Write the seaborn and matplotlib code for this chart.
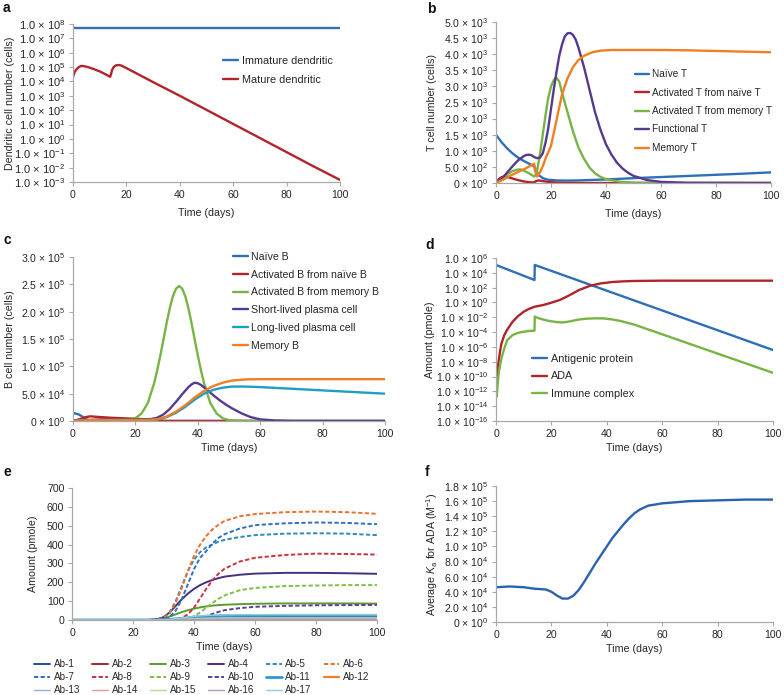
import numpy as np
import matplotlib
matplotlib.use("Agg")
import matplotlib.pyplot as plt
import matplotlib.ticker as mticker
import seaborn as sns

# ---------------- data ----------------
# a: dendritic cells
t_imm = [0, 100]
immature_dc = [5e7, 5e7]
t_mat = [0, 0.5, 1, 2, 3, 4, 6, 8, 10, 12, 13.9, 14.2, 14.6, 15.2, 16, 17, 18, 20,
         30, 40, 50, 60, 70, 80, 90, 100]
mature_dc = [2e4, 4e4, 6e4, 9.5e4, 1.2e5, 1.18e5, 9.5e4, 7e4, 5e4, 3.3e4, 2.1e4, 3e4,
             6e4, 1e5, 1.3e5, 1.4e5, 1.3e5, 8.5e4, 9e3, 1e3, 1.05e2, 11, 1.15, 0.12,
             1.25e-2, 1.4e-3]

# b: T cells
t_naive_t = [0, 2, 4, 6, 8, 10, 12, 13.9, 14.5, 15.5, 17, 19, 22, 26, 30, 40, 50, 60,
             70, 80, 90, 100]
naive_t = [1500, 1270, 1080, 920, 790, 690, 600, 520, 400, 250, 150, 100, 80, 75, 80,
           110, 150, 185, 220, 255, 290, 330]
t_act_naive_t = [0, 1, 2, 3, 4, 6, 8, 10, 12, 13.9, 14.5, 15.5, 17, 19, 22, 25, 30, 100]
act_naive_t = [0, 120, 180, 200, 190, 140, 90, 50, 25, 15, 60, 80, 60, 35, 15, 5, 0, 0]
t_act_mem_t = [0, 2, 4, 6, 8, 9, 10, 12, 13.9, 14.5, 15, 16, 17, 18, 19, 20, 21, 22, 23,
               24, 26, 28, 30, 32, 34, 36, 38, 40, 45, 50, 60, 100]
act_mem_t = [0, 120, 260, 370, 420, 420, 390, 300, 200, 260, 400, 900, 1500, 2100, 2650,
             3000, 3200, 3270, 3150, 2800, 2200, 1600, 1100, 750, 480, 300, 190, 120, 40,
             12, 0, 0]
t_func_t = [0, 2, 4, 6, 8, 10, 11, 12, 13, 14, 15, 16, 17, 18, 19, 20, 21, 22, 23, 24,
            25, 26, 27, 28, 29, 30, 32, 34, 36, 38, 40, 42, 44, 46, 48, 50, 55, 60, 70, 100]
func_t = [0, 120, 320, 520, 700, 830, 870, 880, 860, 800, 770, 790, 920, 1250, 1700,
          2300, 2900, 3450, 3950, 4300, 4550, 4650, 4660, 4600, 4450, 4200, 3600, 2900,
          2200, 1650, 1200, 880, 630, 450, 320, 220, 90, 35, 5, 0]
t_mem_t = [0, 2, 4, 6, 8, 10, 12, 13.9, 14.1, 15, 16, 17, 18, 20, 22, 24, 26, 28, 30,
           32, 35, 38, 42, 50, 60, 70, 80, 90, 100]
mem_t = [0, 80, 170, 260, 340, 420, 510, 600, 400, 200, 330, 520, 760, 1150, 1950, 2750,
         3250, 3600, 3820, 3950, 4060, 4110, 4130, 4130, 4130, 4120, 4100, 4080, 4060]

# c: B cells
t_naive_b = [0, 1, 2, 3, 4, 5, 6, 100]
naive_b = [1.45e4, 1.35e4, 1.15e4, 8e3, 4e3, 1e3, 0, 0]
t_act_naive_b = [0, 2, 4, 5.5, 8, 12, 16, 20, 24, 26, 28, 30, 100]
act_naive_b = [0, 3e3, 7e3, 8.5e3, 7.5e3, 6e3, 5e3, 4e3, 3e3, 2e3, 700, 100, 0]
t_act_mem_b = [0, 5, 10, 15, 18, 20, 22, 24, 26, 27, 28, 29, 30, 31, 32, 33, 34, 35, 36,
               37, 38, 39, 40, 41, 42, 44, 46, 48, 50, 55, 60, 100]
act_mem_b = [0, 1e3, 2e3, 2.5e3, 3e3, 5e3, 1.4e4, 3.3e4, 6.9e4, 9.3e4, 1.2e5, 1.49e5,
             1.79e5, 2.06e5, 2.28e5, 2.42e5, 2.47e5, 2.42e5, 2.28e5, 2.06e5, 1.79e5,
             1.49e5, 1.2e5, 9.3e4, 6.9e4, 3.3e4, 1.4e4, 5e3, 1.5e3, 100, 0, 0]
t_short_pc = [0, 5, 10, 20, 25, 27, 29, 31, 33, 35, 37, 38, 39, 40, 41, 43, 45, 47, 49,
              51, 54, 57, 60, 65, 70, 100]
short_pc = [0, 2e3, 3e3, 3e3, 3.5e3, 6e3, 1.2e4, 2.2e4, 3.5e4, 4.9e4, 6.2e4, 6.7e4, 7e4,
            6.9e4, 6.6e4, 5.7e4, 4.7e4, 3.8e4, 3e4, 2.3e4, 1.4e4, 7e3, 3e3, 800, 0, 0]
t_long_pc = [0, 5, 25, 27, 30, 33, 36, 39, 42, 45, 48, 51, 55, 60, 70, 80, 90, 100]
long_pc = [0, 1.5e3, 2e3, 3e3, 7e3, 1.5e4, 2.6e4, 3.9e4, 5e4, 5.7e4, 6.1e4, 6.3e4, 6.3e4,
           6.2e4, 5.9e4, 5.6e4, 5.3e4, 5e4]
t_mem_b = [0, 5, 25, 27, 30, 33, 36, 39, 42, 45, 48, 51, 55, 60, 100]
mem_b = [0, 1.5e3, 2e3, 3e3, 8e3, 1.7e4, 2.9e4, 4.3e4, 5.5e4, 6.4e4, 7e4, 7.4e4, 7.6e4,
         7.65e4, 7.65e4]

# d: amounts (log10 of pmole)
t_antigen = [0, 13.9, 14.0, 100]
antigen_log = [5.06, 3.03, 5.06, -6.42]
t_ada = [0, 0.3, 0.6, 1, 1.5, 2, 3, 4, 6, 8, 10, 12, 14, 17, 20, 23, 26, 30, 34, 38, 42,
         46, 50, 60, 70, 80, 100]
ada_log = [-11.4, -10.2, -8.8, -7.8, -6.5, -5.5, -4.4, -3.7, -2.6, -1.83, -1.25, -0.85,
           -0.57, -0.35, -0.03, 0.33, 0.87, 1.68, 2.26, 2.58, 2.76, 2.85, 2.9, 2.94, 2.94,
           2.94, 2.94]
t_ic = [0.3, 0.6, 1, 1.5, 2, 3, 4, 6, 8, 10, 12, 13.9, 14.0, 14.5, 16, 18, 20, 22, 24,
        26, 28, 30, 33, 36, 39, 42, 45, 50, 60, 70, 80, 90, 100]
ic_log = [-12.7, -11, -9.5, -8.4, -7.5, -6.2, -5.1, -4.4, -4.1, -3.95, -3.85, -3.8, -1.9,
          -2.0, -2.2, -2.4, -2.55, -2.65, -2.7, -2.6, -2.45, -2.3, -2.18, -2.14, -2.16,
          -2.3, -2.5, -3.0, -4.3, -5.6, -6.9, -8.2, -9.5]

# e: ADA clones
t_ab = [0, 25, 28, 30, 32, 34, 36, 38, 40, 42, 44, 46, 48, 50, 55, 60, 70, 80, 90, 100]
ab1 = [0, 0, 0, 1, 3, 5, 7, 10, 12, 14, 16, 17, 18, 18, 19, 20, 20, 20, 20, 20]
ab2 = [0, 0, 0, 0, 1, 2, 4, 6, 8, 10, 11, 12, 13, 14, 14, 15, 15, 15, 15, 15]
ab3 = [0, 0, 2, 8, 18, 30, 42, 52, 60, 67, 72, 76, 79, 81, 84, 86, 88, 88, 88, 87]
ab4 = [0, 0, 5, 15, 40, 75, 110, 140, 165, 185, 200, 212, 222, 230, 240, 246, 250, 250,
       248, 245]
ab5 = [0, 0, 3, 12, 40, 100, 180, 260, 320, 360, 385, 400, 415, 425, 440, 450, 458, 460,
       458, 450]
ab6 = [0, 0, 3, 10, 35, 90, 170, 260, 340, 400, 445, 480, 505, 525, 550, 562, 572, 575,
       572, 563]
ab7 = [0, 0, 0, 5, 15, 50, 110, 190, 270, 330, 365, 405, 435, 455, 485, 503, 513, 517,
       515, 508]
ab8 = [0, 0, 0, 0, 0, 3, 10, 30, 65, 115, 165, 210, 245, 272, 310, 330, 345, 352, 350,
       347]
ab9 = [0, 0, 0, 0, 0, 0, 2, 8, 20, 40, 65, 90, 112, 130, 158, 170, 180, 183, 185, 185]
ab10 = [0, 0, 0, 0, 0, 0, 0, 1, 4, 10, 20, 32, 43, 52, 63, 70, 75, 78, 79, 80]
ab11 = [0, 0, 0, 1, 3, 6, 9, 12, 15, 18, 20, 21, 22, 23, 24, 24, 25, 25, 25, 25]
ab12 = [0, 0, 0, 0, 1, 2, 3, 4, 5, 6, 6, 7, 7, 7, 8, 8, 8, 8, 8, 8]
ab13 = [0, 0, 0, 0, 1, 2, 4, 6, 8, 9, 10, 11, 11, 12, 12, 12, 12, 12, 12, 12]
ab14 = [0, 0, 0, 0, 0, 1, 2, 3, 4, 4, 5, 5, 5, 6, 6, 6, 6, 6, 6, 6]
ab15 = [0, 0, 0, 0, 1, 2, 3, 5, 6, 7, 8, 9, 9, 10, 10, 10, 10, 10, 10, 10]
ab16 = [0, 0, 0, 0, 0, 1, 1, 2, 2, 3, 3, 3, 4, 4, 4, 4, 4, 4, 4, 4]
ab17 = [0, 0, 0, 1, 3, 7, 11, 15, 19, 22, 24, 25, 26, 27, 28, 28, 28, 28, 28, 28]

# f: average affinity
t_ka = [0, 5, 10, 14, 18, 20, 22, 24, 26, 28, 30, 32, 34, 36, 38, 40, 42, 44, 46, 48, 50,
        52, 55, 60, 70, 80, 90, 100]
avg_ka = [4.6e4, 4.7e4, 4.6e4, 4.4e4, 4.3e4, 4.0e4, 3.5e4, 3.1e4, 3.1e4, 3.5e4, 4.3e4,
          5.4e4, 6.6e4, 7.8e4, 8.9e4, 1.0e5, 1.11e5, 1.2e5, 1.29e5, 1.37e5, 1.44e5,
          1.49e5, 1.54e5, 1.57e5, 1.6e5, 1.61e5, 1.62e5, 1.62e5]

# ---------------- styling ----------------
sns.set_theme(style="ticks")
plt.rcParams['font.family'] = ['Liberation Sans', 'DejaVu Sans']
plt.rcParams['mathtext.fontset'] = 'custom'
plt.rcParams['mathtext.rm'] = 'Liberation Sans'
plt.rcParams['mathtext.it'] = 'Liberation Sans:italic'
plt.rcParams['mathtext.default'] = 'regular'

BLUE = '#2f6fb7'
RED = '#b3242a'
GREEN = '#78b443'
PURPLE = '#563a8f'
ORANGE = '#f07f22'
CYAN = '#1f9ec4'
LW = 1.7
FS = 7.6

W, H = 784, 695
fig = plt.figure(figsize=(W / 100, H / 100), dpi=100)


def px_axes(l, t, r, b):
    return fig.add_axes([l / W, 1 - b / H, (r - l) / W, (b - t) / H])


def sci(v, pos=None):
    if v == 0:
        return r'0 × 10$^{0}$'
    e = int(np.floor(np.log10(abs(v)) + 1e-9))
    m = v / 10 ** e
    return r'%.1f × 10$^{%d}$' % (m, e)


def style(ax, ylabel, ylab_x, labelpad=3, fs=FS):
    sns.despine(ax=ax)
    for s in ('left', 'bottom'):
        ax.spines[s].set_color('#a8a8a8')
        ax.spines[s].set_linewidth(0.9)
    ax.tick_params(axis='both', which='major', length=3, width=0.8, color='#a8a8a8',
                   labelsize=fs, labelcolor='#262626', pad=2.5)
    ax.tick_params(axis='both', which='minor', length=0)
    ax.set_xlim(0, 100)
    ax.set_xticks([0, 20, 40, 60, 80, 100])
    ax.tick_params(axis='x', labelsize=FS)
    ax.set_xlabel('Time (days)', fontsize=7.7, color='#262626', labelpad=labelpad)
    ax.set_ylabel(ylabel, fontsize=7.7, color='#262626')
    bb = ax.get_position()
    ax.yaxis.set_label_coords((ylab_x / W - bb.x0) / bb.width, 0.5)
    ax.yaxis.label.set_va('center')


def leg(ax, x, y, spacing, fs):
    ax.legend(loc='upper left', bbox_to_anchor=(x / W, 1 - y / H),
              bbox_transform=fig.transFigure, frameon=False, fontsize=fs,
              handlelength=1.4, handletextpad=0.35, borderpad=0, borderaxespad=0,
              labelspacing=spacing)


def line(ax, x, y, color, label, **kw):
    sns.lineplot(x=x, y=y, ax=ax, color=color, label=label, lw=kw.pop('lw', LW),
                 estimator=None, sort=False, **kw)


# ---------------- a ----------------
ax = px_axes(73, 24, 340, 182)
ax.set_yscale('log')
line(ax, t_imm, immature_dc, BLUE, 'Immature dendritic')
line(ax, t_mat, mature_dc, RED, 'Mature dendritic')
ax.set_ylim(1e-3, 1e8)
ax.yaxis.set_major_locator(mticker.FixedLocator([10.0 ** k for k in range(-3, 9)]))
ax.yaxis.set_major_formatter(mticker.FuncFormatter(sci))
style(ax, 'Dendritic cell number (cells)', 10, labelpad=6, fs=8.0)
leg(ax, 223, 56, 0.8, 7.8)

# ---------------- b ----------------
ax = px_axes(496, 22, 771, 183)
line(ax, t_naive_t, naive_t, BLUE, 'Naïve T')
line(ax, t_act_naive_t, act_naive_t, RED, 'Activated T from naïve T')
line(ax, t_act_mem_t, act_mem_t, GREEN, 'Activated T from memory T')
line(ax, t_func_t, func_t, PURPLE, 'Functional T')
line(ax, t_mem_t, mem_t, ORANGE, 'Memory T')
ax.set_ylim(0, 5000)
ax.set_yticks(np.arange(0, 5001, 500))
ax.yaxis.set_major_formatter(mticker.FuncFormatter(sci))
style(ax, 'T cell number (cells)', 432, labelpad=6)
leg(ax, 635, 69, 0.85, 7.2)

# ---------------- c ----------------
ax = px_axes(73, 257, 385, 421)
line(ax, t_naive_b, naive_b, BLUE, 'Naïve B')
line(ax, t_act_naive_b, act_naive_b, RED, 'Activated B from naïve B')
line(ax, t_act_mem_b, act_mem_b, GREEN, 'Activated B from memory B')
line(ax, t_short_pc, short_pc, PURPLE, 'Short-lived plasma cell')
line(ax, t_long_pc, long_pc, CYAN, 'Long-lived plasma cell')
line(ax, t_mem_b, mem_b, ORANGE, 'Memory B')
ax.set_ylim(0, 3e5)
ax.set_yticks(np.arange(0, 3.01e5, 5e4))
ax.yaxis.set_major_formatter(mticker.FuncFormatter(sci))
style(ax, 'B cell number (cells)', 10)
leg(ax, 233, 252, 0.73, 7.6)

# ---------------- d ----------------
ax = px_axes(496, 258, 773, 421)
ax.set_yscale('log')
line(ax, t_antigen, 10.0 ** np.array(antigen_log), BLUE, 'Antigenic protein')
line(ax, t_ada, 10.0 ** np.array(ada_log), RED, 'ADA')
line(ax, t_ic, 10.0 ** np.array(ic_log), GREEN, 'Immune complex')
ax.set_ylim(1e-16, 1e6)
ax.yaxis.set_major_locator(mticker.FixedLocator([10.0 ** k for k in range(-16, 7, 2)]))
ax.yaxis.set_major_formatter(mticker.FuncFormatter(sci))
style(ax, 'Amount (pmole)', 430)
leg(ax, 532, 354, 0.68, 7.8)

# ---------------- e ----------------
ax = px_axes(72, 488, 377, 620)
ab_vals = [ab1, ab2, ab3, ab4, ab5, ab6, ab7, ab8, ab9, ab10, ab11, ab12, ab13, ab14,
           ab15, ab16, ab17]
ab_colors = ['#1f4e99', '#a3262a', '#5e9a32', '#45307e', '#2e8bb8', '#e8732c',
             '#2f6fc0', '#c7333b', '#7dbf42', '#5b3e96', '#2a9ad8', '#f07f2a',
             '#8db0de', '#e59c93', '#b7d891', '#a999cc', '#8ccde0']
ab_dashed = [False] * 4 + [True] * 6 + [False] * 7
ab_lw = [1.4] * 10 + [2.0, 1.6] + [1.0] * 5
for i in range(17):
    kw = {'dashes': (2.2, 1.2)} if ab_dashed[i] else {}
    line(ax, t_ab, ab_vals[i], ab_colors[i], 'Ab-%d' % (i + 1), lw=ab_lw[i], **kw)
ax.set_ylim(0, 700)
ax.set_yticks(np.arange(0, 701, 100))
style(ax, 'Amount (pmole)', 33)
handles, labels = ax.get_legend_handles_labels()
# matplotlib fills legend columns first; reorder so entries read row by row
order = [0, 6, 12, 1, 7, 13, 2, 8, 14, 3, 9, 15, 4, 10, 16, 5, 11]
ax.legend([handles[k] for k in order], [labels[k] for k in order],
          loc='upper left', bbox_to_anchor=(34 / W, 1 - 659 / H),
          bbox_transform=fig.transFigure, frameon=False, fontsize=7.1, ncol=6,
          handlelength=1.6, handletextpad=0.4, borderpad=0, borderaxespad=0,
          labelspacing=0.32, columnspacing=1.2)

# ---------------- f ----------------
ax = px_axes(496, 486, 773, 622)
line(ax, t_ka, avg_ka, '#2a62ad', None)
ax.set_ylim(0, 1.8e5)
ax.set_yticks(np.arange(0, 1.81e5, 2e4))
ax.yaxis.set_major_formatter(mticker.FuncFormatter(sci))
style(ax, r'Average $\mathit{K}_{\mathrm{a}}$ for ADA (M$^{-1}$)', 432)
if ax.get_legend() is not None:
    ax.get_legend().remove()

# panel letters
for lab, x, y in [('a', 3, 8), ('b', 427, 9), ('c', 3, 240), ('d', 425, 245),
                  ('e', 3, 472), ('f', 425, 472)]:
    fig.text(x / W, 1 - y / H, lab, fontsize=10, fontweight='bold', va='center',
             ha='left', color='#111111')

fig.savefig('out.png', dpi=100, facecolor='white')
